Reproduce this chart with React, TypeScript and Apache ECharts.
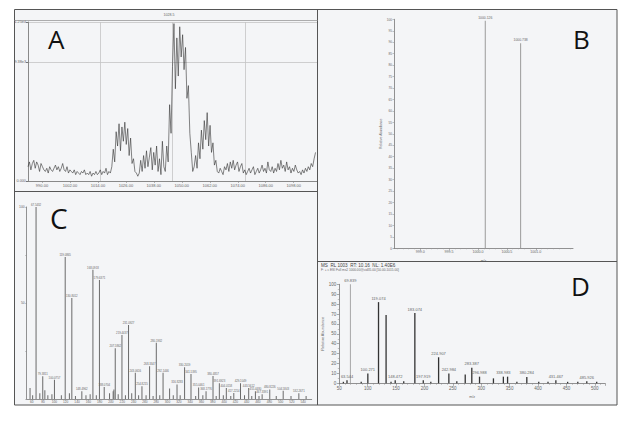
import React, { useEffect, useRef } from "react";
import * as echarts from "echarts";

// Panel A: extracted ion chromatogram, one intensity per scan (relative, %)
const A_SCAN_START = 984;
const A_SCAN_STEP = 0.62;
const A_INTENSITY = [
  9, 12, 7, 11, 13, 8, 12, 10, 6, 11, 9,
  7, 6, 8, 5, 9, 7, 6, 8, 10, 7,
  9, 6, 8, 11, 7, 6, 9, 5, 7, 6,
  5, 7, 4, 6, 5, 4, 6, 5, 7, 4,
  5, 4, 6, 3, 5, 4, 6, 4, 5, 7,
  4, 6, 5, 8, 4, 6, 5,
  9, 20, 12, 31, 22, 36, 19, 34, 25, 37, 23, 33, 16, 27, 11, 14, 6, 5, 3,
  5, 13, 6, 16, 8, 19, 9, 15, 21, 7, 18, 10, 22, 6, 14, 4, 25, 9,
  6, 22, 12, 48, 30, 72, 99, 58, 90, 66, 97, 78, 92, 70, 84, 52, 60, 30, 18, 6,
  9, 16, 8, 24, 14, 32, 20, 38, 26, 43, 22, 35, 18, 24, 10, 13, 6,
  5, 8, 6, 4, 9, 7, 11, 6, 12, 8,
  13, 7, 10, 12, 6, 9, 11, 5, 7, 4,
  6, 8, 5, 7, 9, 4, 6, 8, 5, 7,
  10, 6, 8, 5, 12, 7, 6, 9, 5, 8,
  6, 11, 7, 13, 8, 10, 6, 12, 7, 9,
  5, 8, 6, 10, 7, 5, 6, 4, 7, 5,
  8, 6, 9, 7, 11, 9, 14, 18,
];
const A_TIME_TICKS = [990, 1002, 1014, 1026, 1038, 1050, 1062, 1074, 1086, 1098];
const A_INTENSITY_TICKS = [0, 75, 100];
const A_INTENSITY_TEXT = ["0.000", "9.38e3", "1.25e4"];

// Panel B: precursor isotope peaks [m/z, relative abundance]
const B_PEAKS = [
  [1000.126, 99.4],
  [1000.738, 89.5],
];
const B_MZ_TICKS = [999.0, 999.5, 1000.0, 1000.5, 1001.0];

// Panel C: fragment spectrum, annotated peaks and unannotated minor peaks
const C_PEAKS = [
  [67.5432, 100], [79.3811, 11.8], [100.0757, 10], [119.0865, 74], [130.8012, 52.6],
  [148.4962, 4], [168.0918, 67.3], [179.6371, 62], [188.0704, 6.3], [207.5862, 26.4],
  [219.4437, 33.3], [231.0927, 38.5], [243.0616, 13.7], [254.8215, 6.6], [268.3347, 17],
  [280.1932, 29.3], [292.1446, 13.7], [316.8283, 7.6], [330.2019, 16.5], [341.5395, 13],
  [355.0461, 6], [368.1776, 4], [380.4857, 12], [391.6923, 8.2], [404.0158, 5.7],
  [417.2214, 3.1], [429.1049, 8.2], [443.5612, 5.7], [455.448, 4], [467.3391, 2.5],
  [480.8226, 5], [504.5843, 4.3], [532.2671, 3],
];
const C_MINOR = [
  [56.9, 5.7], [61.5, 2], [74.2, 3], [83.1, 4.5], [88.4, 2], [95.6, 2.5], [112.3, 2],
  [126.5, 3], [137.2, 1.5], [155.8, 2], [163.2, 2.5], [174.1, 2], [197.5, 3], [203.9, 4],
  [205.2, 5], [212.8, 2.5], [225.6, 2], [236.7, 3], [248.9, 2], [262.1, 2], [274.5, 1.5],
  [286.3, 2], [303.7, 5.5], [310.2, 2], [322.4, 2], [349.8, 1.5], [362.5, 2], [386.1, 1.5],
  [398.7, 2], [411.9, 1.5], [436.2, 2], [449.0, 1.5], [461.8, 1.5], [492.3, 1.5],
  [518.4, 1.5], [545.1, 1.5],
];
const C_MZ_TICKS = [60, 80, 100, 120, 140, 160, 180, 200, 220, 240, 260, 280, 300, 320, 340, 360, 380, 400, 420, 440, 460, 480, 500, 520, 540];

// Panel D: MS2 spectrum
const D_BASE_PEAK = [[69.839, 100]];
const D_PEAKS = [
  [63.544, 3], [100.271, 10], [119.074, 82], [148.472, 3], [183.074, 71], [197.919, 3],
  [224.907, 26.3], [242.984, 10], [283.387, 15.8], [296.988, 6.7], [338.983, 6.7],
  [380.284, 6.4], [431.467, 3], [485.926, 2],
];
const D_MINOR = [
  [57.2, 1.5], [88.6, 1.5], [132.4, 69], [141.1, 1.5], [163.5, 2], [211.2, 1.5],
  [257.0, 2], [271.8, 9], [321.5, 5], [346.4, 6.7], [362.8, 1.5], [401.3, 1.5],
  [417.6, 1.5], [452.2, 1.5], [470.1, 1.5], [503.4, 1.5],
];
const D_TITLE = "MS  RL 1003  RT: 10.16  NL: 1.40E6";
const D_SUBTITLE = "F: + c ESI Full ms2 1000.00@cid35.00 [50.00-1015.00]";

const SMALL_FONT = "Liberation Sans, Arial, sans-serif";
const LETTER_FONT = "Open Sans, Noto Sans, sans-serif";

export default function App() {
  const ref = useRef<HTMLDivElement>(null);

  useEffect(() => {
    if (!ref.current) return;
    const chart = echarts.init(ref.current, undefined, { renderer: "svg" });

    const tiny = (size: number) => ({ fontSize: size, color: "#666", fontFamily: SMALL_FONT });
    const axisLine = { show: true, lineStyle: { color: "#777", width: 0.8 } };

    const frameStroke = { stroke: "#555", lineWidth: 1 };

    const option: any = {
      animation: false,
      backgroundColor: "#ffffff",
      grid: [
        { left: 28, top: 22, width: 289, height: 159 },
        { left: 394, top: 19.3, width: 179, height: 229 },
        { left: 26.7, top: 207, width: 285, height: 192 },
        { left: 339.3, top: 284.3, width: 265.7, height: 99 },
      ],
      xAxis: [
        {
          gridIndex: 0, type: "value", min: 984, max: 1108,
          axisLine, splitLine: { show: false },
          axisTick: { show: true, customValues: A_TIME_TICKS, length: 2, lineStyle: { color: "#888", width: 0.6 } },
          axisLabel: { ...tiny(4), margin: 2, customValues: A_TIME_TICKS, formatter: (v: number) => v.toFixed(2) },
        },
        {
          gridIndex: 0, type: "value", min: 0, max: 4, interval: 1,
          axisLine: { show: false }, axisTick: { show: false }, axisLabel: { show: false },
          splitLine: { show: true, lineStyle: { color: "#c4c4c4", width: 0.8 } },
        },
        {
          gridIndex: 1, type: "value", min: 998.547, max: 1001.644,
          axisLine, splitLine: { show: false },
          axisTick: { show: true, customValues: B_MZ_TICKS, length: 2, lineStyle: { color: "#888", width: 0.6 } },
          minorTick: { show: true, splitNumber: 5, length: 1, lineStyle: { color: "#999", width: 0.5 } },
          axisLabel: { ...tiny(3.6), margin: 2, customValues: B_MZ_TICKS, formatter: (v: number) => v.toFixed(1) },
          name: "m/z", nameLocation: "middle", nameGap: 8, nameTextStyle: tiny(3.4),
        },
        {
          gridIndex: 2, type: "value", min: 51, max: 555,
          axisLine, splitLine: { show: false },
          axisTick: { show: true, customValues: C_MZ_TICKS, length: 1.5, lineStyle: { color: "#888", width: 0.5 } },
          axisLabel: { ...tiny(3.2), margin: 1.5, customValues: C_MZ_TICKS },
        },
        {
          gridIndex: 3, type: "value", min: 50, max: 518, interval: 50,
          axisLine, splitLine: { show: false },
          axisTick: { show: true, length: 2.5, lineStyle: { color: "#777", width: 0.6 } },
          minorTick: { show: true, splitNumber: 5, length: 1.5, lineStyle: { color: "#888", width: 0.5 } },
          axisLabel: { ...tiny(4.5), margin: 3, showMaxLabel: false },
          name: "m/z", nameLocation: "middle", nameGap: 12, nameTextStyle: tiny(3.6),
        },
      ],
      yAxis: [
        {
          gridIndex: 0, type: "value", min: 0, max: 100, interval: 25,
          axisLine, axisTick: { show: true, customValues: A_INTENSITY_TICKS, length: 2 },
          splitLine: { show: true, lineStyle: { color: "#c4c4c4", width: 0.8 } },
          axisLabel: {
            ...tiny(3.8), margin: 2, customValues: A_INTENSITY_TICKS,
            formatter: (v: number) => A_INTENSITY_TEXT[A_INTENSITY_TICKS.indexOf(v)] ?? "",
          },
        },
        {
          gridIndex: 1, type: "value", min: 0, max: 100, interval: 5,
          axisLine, splitLine: { show: false },
          axisTick: { show: true, length: 1.5, lineStyle: { color: "#888", width: 0.5 } },
          axisLabel: { ...tiny(3.2), margin: 2 },
          name: "Relative Abundance", nameLocation: "middle", nameGap: 9, nameTextStyle: tiny(3.4),
        },
        {
          gridIndex: 2, type: "value", min: 0, max: 100, interval: 25,
          axisLine, splitLine: { show: false },
          axisTick: { show: true, length: 1.5, lineStyle: { color: "#888", width: 0.5 } },
          axisLabel: { ...tiny(3.4), margin: 2, customValues: [50, 100] },
        },
        {
          gridIndex: 3, type: "value", min: 0, max: 100, interval: 10,
          axisLine, splitLine: { show: false },
          axisTick: { show: true, length: 2.5, lineStyle: { color: "#777", width: 0.6 } },
          minorTick: { show: true, splitNumber: 2, length: 1.5, lineStyle: { color: "#888", width: 0.5 } },
          axisLabel: { ...tiny(4.5), margin: 3 },
          name: "Relative Abundance", nameLocation: "middle", nameGap: 12, nameTextStyle: tiny(3.8),
        },
      ],
      series: [
        {
          type: "line", xAxisIndex: 0, yAxisIndex: 0, showSymbol: false,
          data: A_INTENSITY.map((v, i) => [A_SCAN_START + i * A_SCAN_STEP, v]),
          lineStyle: { color: "#333", width: 0.6 },
        },
        {
          type: "bar", xAxisIndex: 2, yAxisIndex: 1, barWidth: 1, data: B_PEAKS,
          itemStyle: { color: "#9a9a9a" },
          label: { show: true, position: "top", distance: 1.5, ...tiny(3.4), formatter: (p: any) => p.value[0].toFixed(3) },
        },
        {
          type: "bar", xAxisIndex: 3, yAxisIndex: 2, barWidth: 0.8, data: C_MINOR,
          itemStyle: { color: "#6a6a6a" },
        },
        {
          type: "bar", xAxisIndex: 3, yAxisIndex: 2, barWidth: 0.8, barGap: "-100%", data: C_PEAKS,
          itemStyle: { color: "#6a6a6a" },
          label: { show: true, position: "top", distance: 1, ...tiny(2.8), formatter: (p: any) => p.value[0].toFixed(4) },
        },
        {
          type: "bar", xAxisIndex: 4, yAxisIndex: 3, barWidth: 0.7, data: D_BASE_PEAK,
          itemStyle: { color: "#a8a8a8" },
          label: { show: true, position: "top", distance: 1.5, ...tiny(4), formatter: (p: any) => p.value[0].toFixed(3) },
        },
        {
          type: "bar", xAxisIndex: 4, yAxisIndex: 3, barWidth: 1.3, barGap: "-100%", data: D_MINOR,
          itemStyle: { color: "#333" },
        },
        {
          type: "bar", xAxisIndex: 4, yAxisIndex: 3, barWidth: 1.3, barGap: "-100%", data: D_PEAKS,
          itemStyle: { color: "#333" },
          label: { show: true, position: "top", distance: 2, ...tiny(4), formatter: (p: any) => p.value[0].toFixed(3) },
        },
      ],
      graphic: [
        // panel backgrounds and frames
        { type: "rect", z: -10, shape: { x: 14.5, y: 9.5, width: 602.5, height: 395.5 }, style: { fill: "#f4f5f7", ...frameStroke } },
        { type: "line", z: 50, shape: { x1: 317.5, y1: 9.5, x2: 317.5, y2: 405 }, style: frameStroke },
        { type: "line", z: 50, shape: { x1: 14.5, y1: 191.5, x2: 317.5, y2: 191.5 }, style: frameStroke },
        { type: "line", z: 50, shape: { x1: 317.5, y1: 261.5, x2: 617, y2: 261.5 }, style: frameStroke },
        // chromatogram header strip
        { type: "line", z: 50, shape: { x1: 14.5, y1: 20.5, x2: 317.5, y2: 20.5 }, style: { stroke: "#999", lineWidth: 0.8 } },
        { type: "text", z: 50, x: 169, y: 13, style: { text: "1028.5", ...tiny(3.6), fill: "#666", textAlign: "center" } },
        // spectrum header in panel D
        { type: "text", z: 50, x: 321, y: 263, style: { text: D_TITLE, fontSize: 4.6, fontFamily: SMALL_FONT, fill: "#444" } },
        { type: "text", z: 50, x: 321, y: 268.5, style: { text: D_SUBTITLE, fontSize: 3.2, fontFamily: SMALL_FONT, fill: "#666" } },
        // panel letters
        { type: "text", z: 60, x: 48, y: 26, style: { text: "A", fontSize: 26, fontFamily: LETTER_FONT, fill: "#111" } },
        { type: "text", z: 60, x: 573, y: 26, style: { text: "B", fontSize: 26, fontFamily: LETTER_FONT, fill: "#111" } },
        { type: "text", z: 60, x: 50, y: 204, style: { text: "C", fontSize: 28, fontFamily: LETTER_FONT, fill: "#111" } },
        { type: "text", z: 60, x: 571, y: 273, style: { text: "D", fontSize: 26, fontFamily: LETTER_FONT, fill: "#111" } },
      ],
    };

    chart.setOption(option);
    return () => chart.dispose();
  }, []);

  return (
    <div
      ref={ref}
      style={{ position: "fixed", left: 0, top: 0, width: 635, height: 422 }}
    />
  );
}
